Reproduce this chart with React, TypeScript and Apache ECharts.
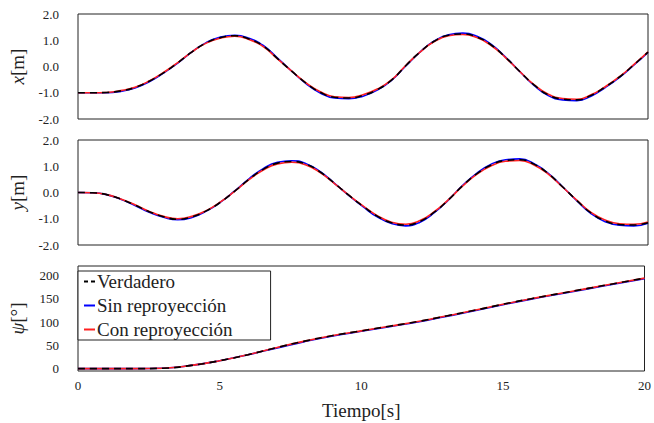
import React, { useEffect, useRef } from "react";
import * as echarts from "echarts";

const T_XY = [0, 0.5, 1, 1.5, 2, 2.5, 3, 3.5, 4, 4.5, 5, 5.5, 6, 6.5, 7, 7.5, 8, 8.5, 9, 9.5, 10, 10.5, 11, 11.5, 12, 12.5, 13, 13.5, 14, 14.5, 15, 15.5, 16, 16.5, 17, 17.5, 18, 18.5, 19, 19.5, 20];

const X_TRUE = [-1.00, -1.00, -0.99, -0.93, -0.80, -0.56, -0.24, 0.14, 0.56, 0.90, 1.10, 1.17, 1.05, 0.78, 0.30, -0.18, -0.63, -0.98, -1.17, -1.20, -1.10, -0.88, -0.52, 0.03, 0.55, 0.96, 1.19, 1.24, 1.12, 0.82, 0.35, -0.19, -0.70, -1.08, -1.24, -1.27, -1.10, -0.78, -0.40, 0.06, 0.55];
const X_SIN = [-1.00, -1.00, -1.00, -0.95, -0.82, -0.58, -0.25, 0.13, 0.56, 0.91, 1.12, 1.19, 1.08, 0.80, 0.32, -0.18, -0.65, -1.01, -1.20, -1.23, -1.13, -0.90, -0.53, 0.02, 0.55, 0.97, 1.21, 1.27, 1.15, 0.84, 0.36, -0.19, -0.72, -1.11, -1.27, -1.30, -1.13, -0.80, -0.41, 0.05, 0.54];
const X_CON = [-1.00, -1.00, -0.99, -0.92, -0.79, -0.55, -0.23, 0.15, 0.56, 0.89, 1.08, 1.15, 1.03, 0.76, 0.29, -0.18, -0.62, -0.96, -1.15, -1.18, -1.08, -0.86, -0.51, 0.04, 0.55, 0.95, 1.17, 1.22, 1.10, 0.80, 0.34, -0.19, -0.69, -1.06, -1.22, -1.25, -1.08, -0.77, -0.39, 0.07, 0.56];

const Y_TRUE = [0.00, -0.01, -0.08, -0.25, -0.48, -0.73, -0.92, -1.02, -0.93, -0.70, -0.37, 0.05, 0.50, 0.88, 1.12, 1.18, 1.08, 0.78, 0.35, -0.10, -0.52, -0.90, -1.15, -1.24, -1.10, -0.75, -0.28, 0.26, 0.72, 1.05, 1.22, 1.25, 1.08, 0.72, 0.22, -0.30, -0.78, -1.08, -1.22, -1.24, -1.15];
const Y_SIN = [0.00, -0.01, -0.08, -0.26, -0.50, -0.75, -0.94, -1.04, -0.95, -0.71, -0.37, 0.06, 0.52, 0.91, 1.15, 1.21, 1.10, 0.79, 0.35, -0.11, -0.54, -0.93, -1.18, -1.27, -1.13, -0.77, -0.28, 0.27, 0.74, 1.08, 1.25, 1.28, 1.10, 0.73, 0.22, -0.31, -0.80, -1.11, -1.25, -1.27, -1.17];
const Y_CON = [0.00, -0.01, -0.08, -0.25, -0.47, -0.72, -0.91, -1.00, -0.91, -0.69, -0.36, 0.05, 0.49, 0.86, 1.09, 1.15, 1.05, 0.76, 0.34, -0.10, -0.51, -0.88, -1.13, -1.21, -1.07, -0.73, -0.27, 0.25, 0.70, 1.02, 1.19, 1.22, 1.05, 0.70, 0.21, -0.29, -0.76, -1.05, -1.19, -1.21, -1.12];

const T_PSI = [0, 1, 2, 3, 4, 5, 6, 7, 8, 9, 10, 11, 12, 13, 14, 15, 16, 17, 18, 19, 20];
const PSI_TRUE = [0, 0, 0, 1, 7, 17, 30, 45, 59, 71, 81, 91, 101, 113, 125, 138, 150, 161, 172, 183, 194];
const PSI_SIN = [0, 0, 0, 1, 7, 17, 30, 44, 58, 70, 80, 90, 100, 112, 124, 137, 149, 160, 171, 182, 193];
const PSI_CON = [0, 0, 0, 1, 7, 17, 30, 45, 59, 71, 81, 91, 101, 113, 125, 138, 150, 161, 172, 183, 194];

const X_TICKS = [0, 5, 10, 15, 20];
const XY_TICKS = [-2, -1, 0, 1, 2];
const PSI_TICKS = [0, 50, 100, 150, 200];

const NAMES = ["Verdadero", "Sin reproyección", "Con reproyección"];
const FONT = "'Liberation Serif', 'Times New Roman', serif";
const TXT = "#222";

const pairs = (t: number[], v: number[]) => t.map((tt, i) => [tt, v[i]]);

export default function App() {
  const ref = useRef<HTMLDivElement>(null);
  useEffect(() => {
    if (!ref.current) return;
    const chart = echarts.init(ref.current, null, { renderer: "svg" });
    const grids = [
      { left: 72, right: 6, top: 14, height: 105 },
      { left: 72, right: 6, top: 140, height: 105 },
      { left: 72, right: 6, top: 266, height: 105 },
    ].map((g) => ({ ...g, show: true, borderColor: "#222", borderWidth: 1, backgroundColor: "transparent" }));

    const xAxes = [0, 1, 2].map((i) => ({
      type: "value",
      gridIndex: i,
      min: 0,
      max: 20,
      interval: 5,
      axisLine: { show: false },
      axisTick: { show: false },
      splitLine: { show: false },
      axisLabel: {
        show: i === 2,
        fontFamily: FONT,
        fontSize: 13,
        color: TXT,
        margin: 8,
        formatter: (v: number) => (X_TICKS.includes(v) ? String(v) : ""),
      },
      name: i === 2 ? "Tiempo[s]" : "",
      nameLocation: "middle",
      nameGap: 30,
      nameTextStyle: { fontFamily: FONT, fontSize: 19, color: TXT },
    }));

    const nameStyle = {
      fontFamily: FONT,
      fontSize: 19,
      color: TXT,
      rich: { i: { fontFamily: FONT, fontSize: 19, fontStyle: "italic", color: TXT } },
    };

    const yAxes = [
      {
        type: "value", gridIndex: 0, min: -2, max: 2, interval: 1,
        name: "{i|x}[m]",
        axisLabel: { formatter: (v: number) => (XY_TICKS.includes(v) ? v.toFixed(1) : "") },
      },
      {
        type: "value", gridIndex: 1, min: -2, max: 2, interval: 1,
        name: "{i|y}[m]",
        axisLabel: { formatter: (v: number) => (XY_TICKS.includes(v) ? v.toFixed(1) : "") },
      },
      {
        type: "value", gridIndex: 2, min: -5, max: 220, interval: 5,
        name: "{i|ψ}[°]",
        axisLabel: { formatter: (v: number) => (PSI_TICKS.includes(v) ? String(v) : "") },
      },
    ].map((a) => ({
      ...a,
      axisLine: { show: false },
      axisTick: { show: false },
      splitLine: { show: false },
      axisLabel: { ...a.axisLabel, fontFamily: FONT, fontSize: 13, color: TXT, margin: 19 },
      nameLocation: "middle",
      nameGap: 51,
      nameRotate: 90,
      nameTextStyle: nameStyle,
    }));

    const panels = [
      [X_SIN, X_CON, X_TRUE, T_XY],
      [Y_SIN, Y_CON, Y_TRUE, T_XY],
      [PSI_SIN, PSI_CON, PSI_TRUE, T_PSI],
    ];
    const series: any[] = [];
    panels.forEach(([sin, con, tru, t], i) => {
      series.push({
        type: "line", name: NAMES[1], xAxisIndex: i, yAxisIndex: i, data: pairs(t, sin),
        showSymbol: false, symbol: "none", smooth: 0.5, color: "#0000ff",
        lineStyle: { color: "#0000ff", width: 1.6 },
      });
      series.push({
        type: "line", name: NAMES[2], xAxisIndex: i, yAxisIndex: i, data: pairs(t, con),
        showSymbol: false, symbol: "none", smooth: 0.5, color: "#ff2020",
        lineStyle: { color: "#ff2020", width: 1.6 },
      });
      series.push({
        type: "line", name: NAMES[0], xAxisIndex: i, yAxisIndex: i, data: pairs(t, tru),
        showSymbol: false, symbol: "none", smooth: 0.5, color: "#000000",
        lineStyle: { color: "#000000", width: 1.6, type: [7, 5] },
      });
    });

    chart.setOption({
      animation: false,
      backgroundColor: "#ffffff",
      textStyle: { fontFamily: FONT },
      grid: grids,
      xAxis: xAxes,
      yAxis: yAxes,
      legend: {
        data: [
          { name: NAMES[0], icon: "path://M0,0h4v2h-4z M7,0h4v2h-4z", itemStyle: { color: "#000" } },
          { name: NAMES[1], icon: "path://M0,0h11v2h-11z", itemStyle: { color: "#0000ff" } },
          { name: NAMES[2], icon: "path://M0,0h11v2h-11z", itemStyle: { color: "#ff2020" } },
        ],
        orient: "vertical",
        left: 78,
        top: 271,
        itemGap: 5,
        itemWidth: 11,
        itemHeight: 2,
        padding: [1, 38, 1, 6],
        borderColor: "#222",
        borderWidth: 1,
        borderRadius: 0,
        backgroundColor: "#fff",
        textStyle: { fontFamily: FONT, fontSize: 19, color: TXT, padding: [0, 0, 0, -3], lineHeight: 19 },
        selectedMode: false,
      },
      series,
    });
    return () => chart.dispose();
  }, []);
  return <div ref={ref} style={{ position: "absolute", left: 0, top: 0, width: 654, height: 423 }} />;
}
